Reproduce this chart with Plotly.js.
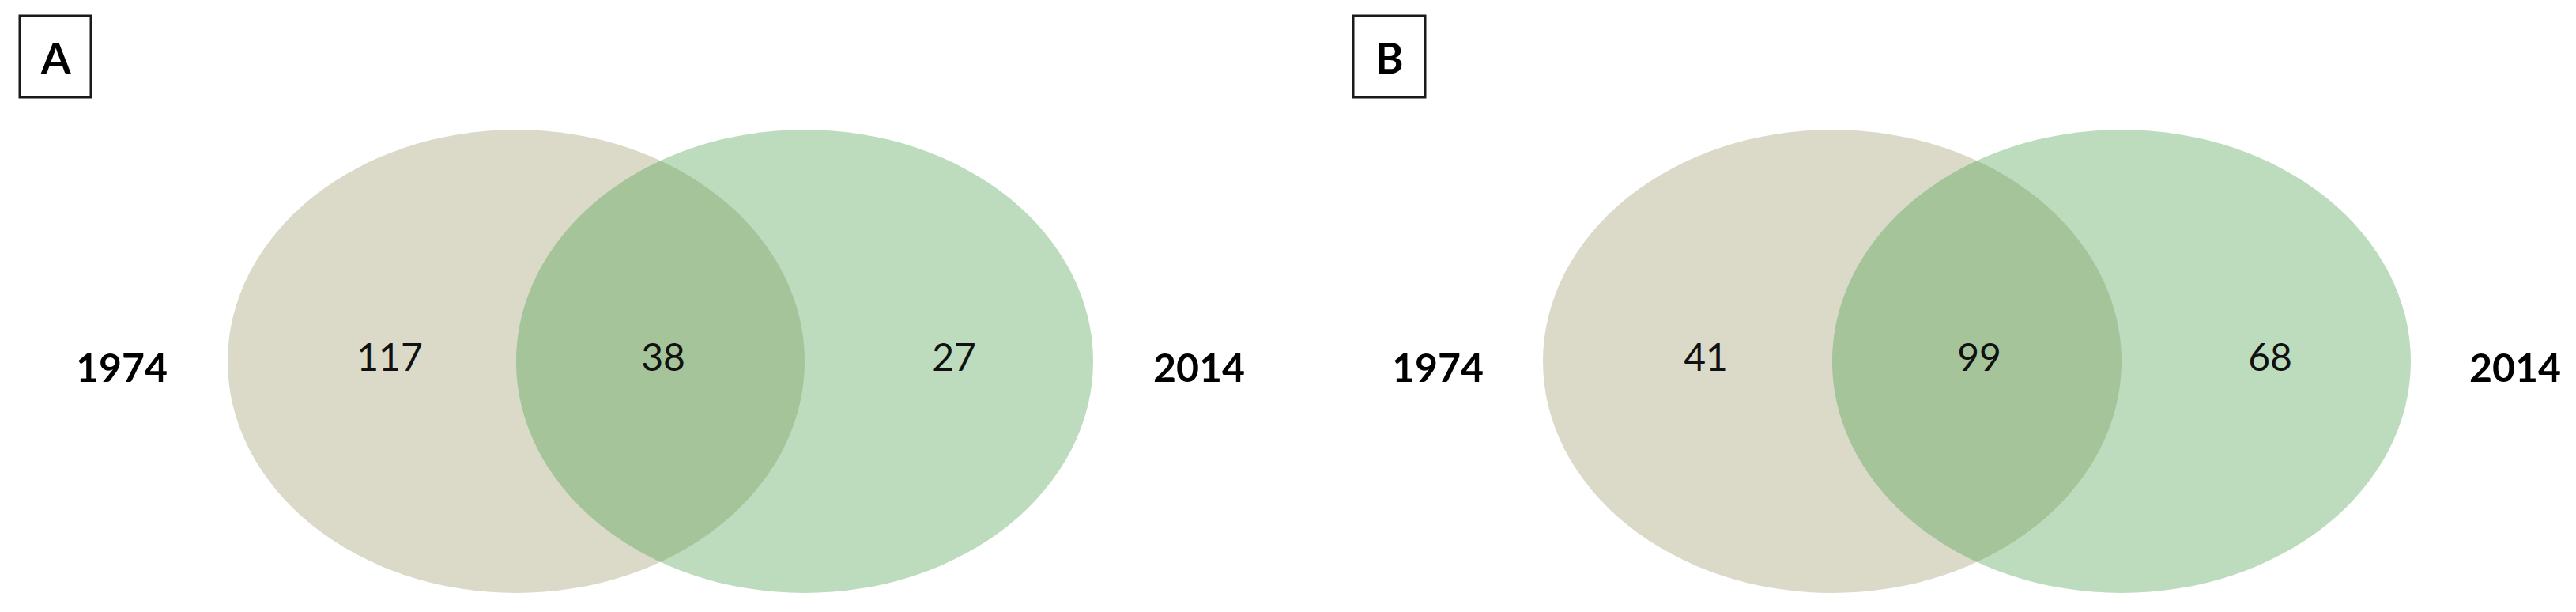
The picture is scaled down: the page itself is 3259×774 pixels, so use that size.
<!DOCTYPE html>
<html>
<head>
<meta charset="utf-8">
<script src="https://cdn.plot.ly/plotly-3.0.1.min.js"></script>
<style>
  html, body { margin: 0; padding: 0; background: #fff; }
  #myDiv { width: 3259px; height: 774px; }
</style>
</head>
<body>
<div id="myDiv"></div>
<script>
// venn counts, one entry per panel
var panels = ['A', 'B'];
var setNames = ['1974', '2014'];
var onlyFirst = [117, 41];
var shared = [38, 99];
var onlySecond = [27, 68];

// where each panel sits on the page (pixels)
var panelGeom = [
  { cx: 653,  rx: 365, boxX: [25, 115] },
  { cx: 2318, rx: 366, boxX: [1712, 1803] }
];
var cy = 457, ry = 293;
var boxY = [20, 123];
var numOffsets = [-160, 186, 554];
var yearOffsets = [-499, 864];

var colFirst = 'rgb(219,218,200)';
var colSecond = 'rgb(189,220,190)';
var colBoth = 'rgb(165,196,154)';

function ellipse(cx, rx, color)
{
  return {
    type: 'circle', xref: 'x', yref: 'y', layer: 'below',
    x0: cx - rx, x1: cx + rx, y0: cy - ry, y1: cy + ry,
    fillcolor: color, line: { width: 0 }
  };
}

// lens between the two ellipses (right arc of first, left arc of second)
function lens(cx, rx)
{
  var pts = [];
  var n = 80;
  for (var i = 0; i <= n; i++) {
    var t = -Math.PI / 3 + (2 * Math.PI / 3) * i / n;
    pts.push([cx + rx * Math.cos(t), cy + ry * Math.sin(t)]);
  }
  var cx2 = cx + rx;
  for (var j = 0; j <= n; j++) {
    var t2 = Math.PI * 2 / 3 + (2 * Math.PI / 3) * j / n;
    pts.push([cx2 + rx * Math.cos(t2), cy + ry * Math.sin(t2)]);
  }
  var d = 'M ' + pts.map(function(p) { return p[0].toFixed(2) + ',' + p[1].toFixed(2); }).join(' L ') + ' Z';
  return {
    type: 'path', xref: 'x', yref: 'y', layer: 'below',
    path: d, fillcolor: colBoth, line: { width: 0 }
  };
}

var shapes = [];
var traces = [];
var annotations = [];

for (var p = 0; p < panels.length; p++) {
  var g = panelGeom[p];
  shapes.push(ellipse(g.cx, g.rx, colFirst));
  shapes.push(ellipse(g.cx + g.rx, g.rx, colSecond));
  shapes.push(lens(g.cx, g.rx));

  // panel letter box
  shapes.push({
    type: 'rect', xref: 'x', yref: 'y',
    x0: g.boxX[0], x1: g.boxX[1], y0: boxY[0], y1: boxY[1],
    line: { color: '#1a1a1a', width: 3 }, fillcolor: 'rgba(0,0,0,0)'
  });
  annotations.push({
    x: (g.boxX[0] + g.boxX[1]) / 2, y: (boxY[0] + boxY[1]) / 2 + 1,
    xref: 'x', yref: 'y', text: '<b>' + panels[p] + '</b>', showarrow: false,
    font: { family: 'Lato, Liberation Sans, sans-serif', size: 54, color: '#000' }
  });

  var counts = [onlyFirst[p], shared[p], onlySecond[p]];
  traces.push({
    x: numOffsets.map(function(o) { return g.cx + o; }),
    y: [cy, cy, cy],
    text: counts.map(String),
    mode: 'text', type: 'scatter', hoverinfo: 'skip',
    textposition: 'middle center',
    textfont: { family: 'Lato, Liberation Sans, sans-serif', size: 48, color: '#111' }
  });

  traces.push({
    x: yearOffsets.map(function(o) { return g.cx + o; }),
    y: [470, 470],
    text: setNames.map(function(s) { return '<b>' + s + '</b>'; }),
    mode: 'text', type: 'scatter', hoverinfo: 'skip',
    textposition: 'middle center',
    textfont: { family: 'Lato, Liberation Sans, sans-serif', size: 50, color: '#000' }
  });
}

var layout = {
  width: 3259, height: 774,
  margin: { l: 0, r: 0, t: 0, b: 0 },
  paper_bgcolor: '#fff', plot_bgcolor: '#fff',
  showlegend: false,
  xaxis: { range: [0, 3259], visible: false, fixedrange: true },
  yaxis: { range: [774, 0], visible: false, fixedrange: true },
  shapes: shapes,
  annotations: annotations
};

Plotly.newPlot('myDiv', traces, layout, { staticPlot: true, displayModeBar: false });
</script>
</body>
</html>
